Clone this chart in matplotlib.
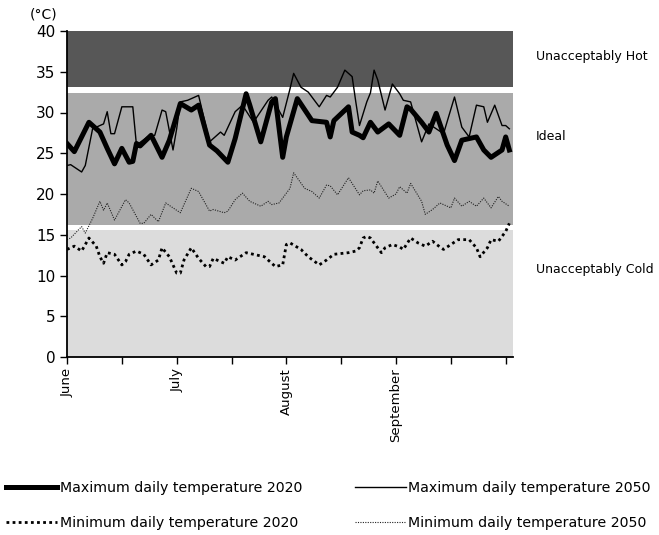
import matplotlib.pyplot as plt
import numpy as np

# day 0 = 1 June
max20_day = [0, 2, 6, 7, 9, 11, 13, 15, 17, 18, 19, 20, 23, 26, 28, 31, 34, 36, 39, 41,
             44, 46, 49, 50, 53, 56, 57, 59, 60, 63, 67, 71, 72, 73, 77, 78, 80, 81, 83, 85,
             88, 91, 93, 94, 97, 99, 101, 104, 106, 108, 112, 114, 116, 119, 120, 121]
max20 = [26.2, 25.2, 28.8, 28.4, 27.6, 25.6, 23.7, 25.6, 23.9, 24.0, 26.2, 25.9, 27.2, 24.5,
         26.6, 31.1, 30.3, 30.9, 26.0, 25.3, 23.9, 26.8, 32.3, 30.9, 26.4, 31.3, 31.7, 24.5,
         27.0, 31.7, 29.0, 28.8, 27.0, 29.0, 30.7, 27.6, 27.2, 26.9, 28.8, 27.6, 28.6, 27.2,
         30.7, 30.4, 28.8, 27.6, 29.9, 26.0, 24.1, 26.6, 27.0, 25.4, 24.5, 25.4, 27.0, 25.4]

max50_day = [0, 1, 4, 5, 7, 10, 11, 12, 13, 15, 18, 19, 22, 24, 26, 27, 29, 30, 31, 33,
             36, 39, 41, 42, 43, 46, 48, 51, 55, 56, 59, 61, 62, 64, 66, 69, 71, 72, 74, 76,
             78, 79, 80, 82, 83, 84, 85, 87, 89, 91, 92, 94, 97, 99, 103, 106, 108, 110, 112,
             114, 115, 117, 119, 120, 121]
max50 = [23.5, 23.6, 22.7, 23.5, 28.0, 28.6, 30.1, 27.4, 27.4, 30.7, 30.7, 26.0, 27.0, 27.2,
         30.3, 30.1, 25.4, 28.0, 31.3, 31.5, 32.1, 26.4, 27.2, 27.6, 27.2, 30.1, 30.9, 28.8,
         31.5, 31.9, 29.4, 32.9, 34.8, 33.1, 32.5, 30.7, 32.1, 31.9, 33.1, 35.2, 34.4, 31.3,
         28.4, 31.3, 32.4, 35.2, 34.0, 30.3, 33.5, 32.3, 31.5, 31.3, 26.4, 28.6, 27.4, 31.9,
         28.2, 27.0, 30.9, 30.7, 28.8, 30.9, 28.4, 28.4, 28.0]

min20_day = [0, 2, 4, 6, 8, 9, 10, 11, 13, 15, 16, 17, 19, 21, 23, 25, 26, 28, 30, 31,
             32, 34, 36, 38, 39, 40, 42, 43, 44, 46, 49, 51, 54, 56, 57, 59, 60, 61, 64, 66,
             69, 71, 73, 77, 79, 80, 81, 82, 83, 85, 86, 87, 89, 91, 92, 94, 96, 98, 100, 102,
             103, 105, 107, 110, 112, 113, 115, 116, 118, 120, 121]
min20 = [13.2, 13.6, 13.0, 14.6, 13.6, 12.3, 11.5, 12.8, 12.6, 11.3, 11.7, 12.6, 13.0, 12.6,
         11.3, 11.9, 13.4, 12.3, 10.3, 10.3, 11.9, 13.4, 12.1, 11.1, 11.1, 12.1, 11.7, 11.5,
         12.3, 11.9, 12.8, 12.6, 12.3, 11.5, 11.1, 11.3, 13.8, 14.0, 13.2, 12.3, 11.3, 11.9,
         12.6, 12.8, 13.0, 13.4, 14.6, 14.8, 14.6, 13.4, 12.8, 13.4, 13.8, 13.5, 13.2, 14.6,
         14.0, 13.6, 14.2, 13.5, 13.2, 13.8, 14.4, 14.4, 13.4, 12.3, 13.4, 14.4, 14.2, 15.4, 16.4]

min50_day = [0, 1, 4, 5, 7, 9, 10, 11, 13, 16, 17, 20, 21, 23, 25, 27, 29, 31, 34, 36,
             39, 40, 43, 44, 46, 48, 50, 53, 55, 56, 58, 61, 62, 65, 67, 69, 71, 72, 74, 77,
             80, 81, 83, 84, 85, 88, 90, 91, 93, 94, 97, 98, 100, 102, 104, 105, 106, 108, 110,
             112, 114, 116, 118, 119, 121]
min50 = [14.4, 14.6, 16.0, 15.2, 17.0, 19.1, 18.0, 18.9, 16.8, 19.3, 18.9, 16.4, 16.4, 17.5,
         16.6, 18.9, 18.3, 17.7, 20.7, 20.3, 17.9, 18.1, 17.7, 17.9, 19.3, 20.1, 19.1, 18.5,
         19.1, 18.7, 18.9, 20.7, 22.6, 20.7, 20.3, 19.5, 21.1, 21.0, 19.9, 22.0, 19.9, 20.4,
         20.5, 20.1, 21.6, 19.5, 20.0, 20.9, 20.1, 21.3, 19.1, 17.5, 18.1, 18.9, 18.5, 18.3,
         19.5, 18.5, 19.1, 18.5, 19.5, 18.3, 19.7, 19.1, 18.5]

# comfort bands
band_low = [0, 16.2, 33.1]
band_high = [15.6, 32.4, 40]
band_col = ['#dcdcdc', '#aaaaaa', '#575757']
band_txt = ['Unacceptably Cold', 'Ideal', 'Unacceptably Hot']
band_txt_y = [10.7, 27, 36.9]

month_lab = ['June', '', 'July', '', 'August', '', 'September', '', '']

fig = plt.figure(figsize=(6.59, 5.35), dpi=100)
ax = fig.add_axes([67/659, 1-357/535, (513-67)/659, (357-31)/535])

for lo, hi, c in zip(band_low, band_high, band_col):
    ax.axhspan(lo, hi, color=c, lw=0, zorder=0)
for t, y in zip(band_txt, band_txt_y):
    ax.text(128.2, y, t, fontsize=9, va='center', ha='left', clip_on=False)

ax.plot(max20_day, max20, color='black', lw=3.6, solid_joinstyle='round',
        label='Maximum daily temperature 2020')
ax.plot(min20_day, min20, color='black', lw=2.0, ls=(0, (1, 1.2)),
        label='Minimum daily temperature 2020')
ax.plot(max50_day, max50, color='black', lw=1.0, label='Maximum daily temperature 2050')
ax.plot(min50_day, min50, color='#222222', lw=0.8, ls=(0, (1, 1.2)),
        label='Minimum daily temperature 2050')

ax.set_xlim(0, 122)
ax.set_ylim(0, 40)
ax.set_yticks(range(0, 41, 5))
ax.set_xticks(range(0, 121, 15))
ax.set_xticklabels(month_lab, rotation=90, fontsize=9.5, va='top')
ax.tick_params(axis='y', labelsize=11, length=5, width=1)
ax.tick_params(axis='x', length=5, width=1, pad=3)
for s in ['top', 'right']:
    ax.spines[s].set_visible(False)
for s in ['left', 'bottom']:
    ax.spines[s].set_linewidth(1.3)
fig.text(30/659, 1-14/535, '(°C)', fontsize=10, va='center', ha='left')

fig.legend(loc='upper left', bbox_to_anchor=(6/659, 1-481/535), ncol=2, frameon=False,
           fontsize=10.2, handlelength=3.6, handletextpad=0.2, columnspacing=3.7,
           labelspacing=1.45, borderpad=0, borderaxespad=0)

fig.savefig('out.png', dpi=100)
